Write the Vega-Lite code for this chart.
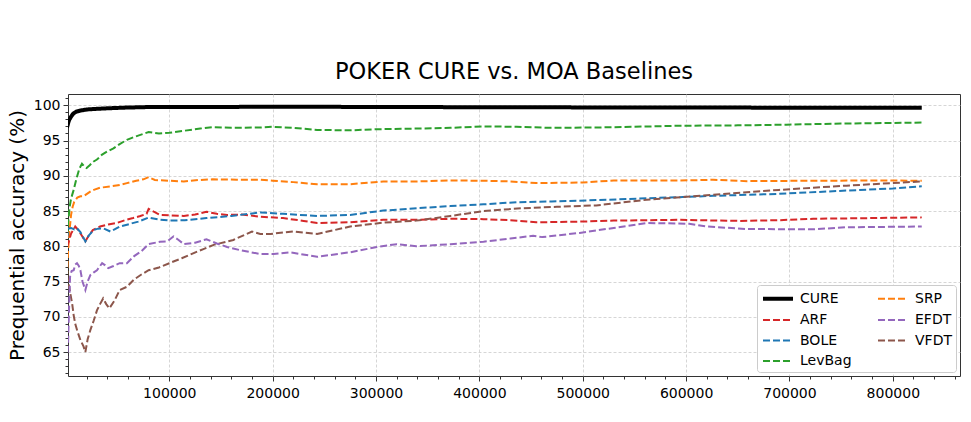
{
  "$schema": "https://vega.github.io/schema/vega-lite/v6.json",
  "width": 892,
  "height": 282,
  "autosize": "none",
  "padding": {"left": 68, "top": 94, "right": 11, "bottom": 46},
  "background": "white",
  "title": {"text": "POKER CURE vs. MOA Baselines"},
  "datasets": {
    "raw": [
      {"m":"CURE","s":[[1000,96.8],[2000,97.4],[3000,97.9],[5000,98.4],[7000,98.8],[10000,99.1],[14000,99.25],[20000,99.4],[30000,99.5],[45000,99.6],[60000,99.68],[80000,99.75],[120000,99.75],[180000,99.78],[250000,99.78],[330000,99.75],[420000,99.72],[500000,99.7],[600000,99.68],[700000,99.66],[780000,99.65],[828000,99.65]]},
      {"m":"LevBag","s":[[1000,80],[2000,83],[3500,85.5],[5000,86.8],[7500,88.0],[10000,89.5],[13000,91.0],[15500,91.7],[18000,91.3],[20000,91.1],[23000,91.5],[26500,92.0],[30000,92.3],[35000,93.0],[40000,93.45],[46000,93.9],[52000,94.5],[59000,95.1],[66000,95.5],[72000,95.8],[80000,96.2],[90000,96.0],[100000,96.1],[115000,96.4],[130000,96.7],[142000,96.9],[160000,96.8],[188000,96.85],[200000,96.95],[220000,96.8],[243000,96.5],[275000,96.45],[301000,96.6],[340000,96.7],[372000,96.8],[404000,97.0],[436000,96.95],[468000,96.8],[513000,96.85],[550000,96.95],[594000,97.1],[650000,97.15],[697000,97.25],[750000,97.4],[800000,97.5],[828000,97.55]]},
      {"m":"SRP","s":[[1000,75.5],[2000,79],[3000,81.5],[4000,83],[5000,84.5],[6500,85.6],[8000,86.3],[11000,86.9],[14000,87.1],[17000,87.1],[20000,87.4],[24000,87.8],[27000,88.0],[33000,88.3],[43000,88.5],[52000,88.7],[59000,88.96],[68000,89.3],[75000,89.5],[80000,89.8],[86000,89.4],[100000,89.3],[114000,89.2],[128000,89.4],[142000,89.5],[165000,89.45],[188000,89.45],[200000,89.3],[220000,89.1],[243000,88.8],[275000,88.8],[307000,89.2],[340000,89.2],[372000,89.33],[404000,89.3],[430000,89.2],[455000,88.96],[500000,89.05],[530000,89.33],[594000,89.33],[626000,89.43],[659000,89.24],[723000,89.3],[787000,89.33],[828000,89.3]]},
      {"m":"ARF","s":[[1000,79.9],[3000,80.8],[5000,81.8],[7000,82.3],[9000,82.8],[12000,82.3],[15000,81.6],[18800,80.7],[22000,81.5],[26000,82.3],[33000,82.8],[41000,83.1],[49000,83.3],[57000,83.7],[65000,84.0],[72000,84.3],[78000,84.6],[80000,85.3],[85000,84.9],[91000,84.45],[100000,84.4],[114000,84.3],[125000,84.5],[136000,84.9],[146000,84.6],[156000,84.45],[170000,84.5],[188000,84.2],[210000,84.0],[230000,83.6],[243000,83.3],[275000,83.4],[307000,83.75],[340000,83.75],[372000,83.9],[404000,83.85],[430000,83.7],[455000,83.4],[497000,83.5],[530000,83.64],[594000,83.75],[652000,83.6],[690000,83.7],[723000,83.9],[780000,84.0],[828000,84.1]]},
      {"m":"BOLE","s":[[1000,81],[2500,82.5],[5000,82.6],[8000,82.4],[10700,82.55],[14000,82.0],[18800,80.7],[22000,81.5],[26800,82.3],[31000,82.5],[36000,82.55],[43000,82.1],[47000,82.4],[52000,82.8],[60000,83.1],[70000,83.5],[80000,84.07],[90000,83.8],[101000,83.64],[115000,83.7],[136000,84.0],[160000,84.3],[188000,84.8],[210000,84.6],[243000,84.3],[275000,84.45],[307000,85.06],[340000,85.4],[372000,85.7],[404000,85.95],[436000,86.25],[470000,86.35],[513000,86.55],[562000,86.8],[626000,87.15],[690000,87.44],[755000,87.9],[800000,88.2],[828000,88.5]]},
      {"m":"VFDT","s":[[1000,76],[2600,74.7],[4000,73.5],[6000,71.9],[7500,70.2],[9000,69.0],[11000,68.0],[14000,66.7],[17000,65.8],[18800,65.0],[21000,66.8],[23600,68.1],[27000,69.5],[30000,70.9],[33000,71.8],[36000,72.6],[39000,71.8],[42000,71.2],[47000,72.3],[52000,73.8],[59000,74.25],[66000,75.3],[73000,76.0],[80000,76.6],[90000,77.0],[100000,77.6],[112000,78.3],[123000,79.0],[133000,79.6],[143000,80.2],[162000,80.9],[180000,82.1],[188000,81.75],[198000,81.75],[220000,82.1],[243000,81.75],[275000,82.8],[307000,83.35],[339000,83.64],[372000,84.3],[404000,85.0],[442000,85.4],[475000,85.6],[513000,85.8],[562000,86.6],[626000,87.3],[690000,88.0],[755000,88.6],[828000,89.2]]},
      {"m":"EFDT","s":[[1000,63.5],[2000,66],[3000,71],[4000,75.7],[5500,76.5],[7500,76.6],[9000,77.4],[10700,77.6],[12500,77.2],[14000,76.6],[16000,75.0],[18800,73.8],[21000,75.0],[23600,75.9],[27000,76.3],[30000,76.6],[35000,77.6],[38000,77.3],[41000,76.9],[46000,77.2],[52000,77.6],[59000,77.6],[66000,78.6],[73000,79.3],[80000,80.3],[91000,80.65],[98000,80.7],[104000,81.4],[109000,80.9],[114000,80.3],[125000,80.5],[136000,81.0],[146000,80.4],[156000,79.9],[170000,79.4],[188000,78.9],[201000,78.9],[217000,79.15],[243000,78.5],[275000,79.15],[301000,79.9],[320000,80.3],[339000,80.0],[372000,80.3],[404000,80.65],[430000,81.1],[452000,81.5],[461000,81.3],[497000,81.9],[530000,82.6],[562000,83.3],[603000,83.2],[620000,82.8],[659000,82.45],[723000,82.4],[755000,82.7],[828000,82.8]]}
    ]
  },
  "data": {"name": "raw"},
  "transform": [
    {"flatten": ["s"]},
    {"calculate": "datum.s[0]", "as": "x"},
    {"calculate": "datum.s[1]", "as": "acc"}
  ],
  "mark": {"type": "line", "interpolate": "linear", "clip": true},
  "encoding": {
    "x": {
      "field": "x", "type": "quantitative",
      "scale": {"domain": [2000, 865000], "nice": false, "zero": false},
      "axis": {
        "title": null,
        "values": [20000,40000,60000,80000,100000,120000,140000,160000,180000,200000,220000,240000,260000,280000,300000,320000,340000,360000,380000,400000,420000,440000,460000,480000,500000,520000,540000,560000,580000,600000,620000,640000,660000,680000,700000,720000,740000,760000,780000,800000,820000,840000,860000],
        "labelExpr": "datum.value % 100000 === 0 ? '' + datum.value : ''",
        "tickSize": {"condition": {"test": "datum.value % 100000 === 0", "value": 5}, "value": 3},
        "gridOpacity": {"condition": {"test": "datum.value % 100000 === 0", "value": 1}, "value": 0},
        "labelOverlap": false,
        "labelPadding": 5
      }
    },
    "y": {
      "field": "acc", "type": "quantitative",
      "scale": {"domain": [61.6, 101.6], "nice": false, "zero": false},
      "axis": {
        "title": "Prequential accuracy (%)",
        "values": [62,63,64,65,66,67,68,69,70,71,72,73,74,75,76,77,78,79,80,81,82,83,84,85,86,87,88,89,90,91,92,93,94,95,96,97,98,99,100,101],
        "labelExpr": "datum.value % 5 === 0 ? '' + datum.value : ''",
        "tickSize": {"condition": {"test": "datum.value % 5 === 0", "value": 5}, "value": 3},
        "gridOpacity": {"condition": {"test": "datum.value % 5 === 0", "value": 1}, "value": 0},
        "labelOverlap": false,
        "labelPadding": 3,
        "titlePadding": 6
      }
    },
    "color": {
      "field": "m", "type": "nominal",
      "scale": {"domain": ["CURE","ARF","BOLE","LevBag","SRP","EFDT","VFDT"], "range": ["#000000","#d62728","#1f77b4","#2ca02c","#ff7f0e","#9467bd","#8c564b"]},
      "legend": {"title": null}
    },
    "strokeDash": {
      "field": "m", "type": "nominal",
      "scale": {"domain": ["CURE","ARF","BOLE","LevBag","SRP","EFDT","VFDT"], "range": [[1,0],[7,3],[7,3],[7,3],[7,3],[7,3],[7,3]]},
      "legend": {"title": null}
    },
    "strokeWidth": {
      "field": "m", "type": "nominal",
      "scale": {"type": "ordinal", "domain": ["CURE","ARF","BOLE","LevBag","SRP","EFDT","VFDT"], "range": [4,2,2,2,2,2,2]},
      "legend": {"title": null}
    },
    "order": {"field": "m"}
  },
  "config": {
    "font": "DejaVu Sans",
    "view": {"stroke": "#333333", "strokeWidth": 1},
    "title": {"fontSize": 22.5, "fontWeight": "normal", "color": "#000000", "anchor": "middle", "offset": 8, "font": "DejaVu Sans"},
    "axis": {
      "domain": false,
      "labelFont": "DejaVu Sans",
      "labelFontSize": 14,
      "labelColor": "#000000",
      "titleFont": "DejaVu Sans",
      "titleFontSize": 20,
      "titleFontWeight": "normal",
      "titleColor": "#000000",
      "tickColor": "#333333",
      "tickWidth": 1,
      "gridColor": "#cccccc",
      "gridDash": [3, 2],
      "gridWidth": 0.8
    },
    "legend": {
      "orient": "none",
      "legendX": 689,
      "legendY": 191,
      "columns": 2,
      "columnPadding": 22,
      "rowPadding": 4.5,
      "padding": 4,
      "fillColor": "#ffffff",
      "strokeColor": "#cccccc",
      "cornerRadius": 3,
      "labelFont": "DejaVu Sans",
      "labelFontSize": 14,
      "labelColor": "#000000",
      "labelOffset": 20,
      "symbolType": "M-1,0H3",
      "symbolSize": 225
    }
  }
}
